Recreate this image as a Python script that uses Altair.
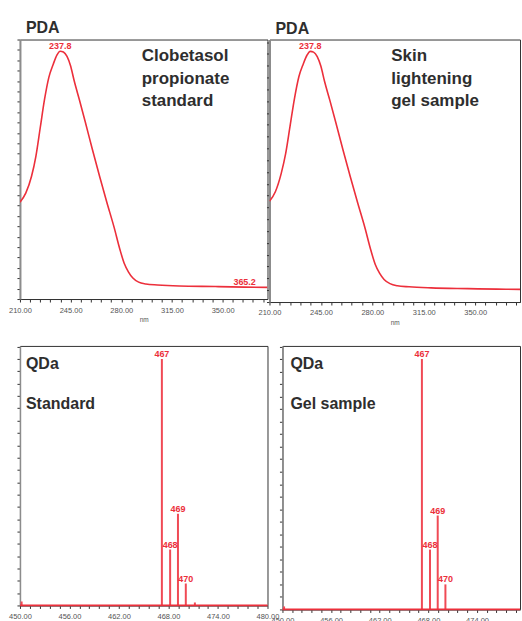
import altair as alt
import pandas as pd

FONT = "Liberation Sans"
RED = "#ec2f3b"
STICK_RED = "#f04a55"
TXT = "#2e2e2e"
AXC = "#555555"

# ---- PDA (UV) spectra: wavelength (nm) vs relative absorbance
std_wl = [210, 214, 218, 221, 224, 227, 230, 233, 235.5, 237.8, 240, 242.5, 245, 247.5,
          251, 255, 260, 265, 270, 275, 279, 282, 285, 288, 292, 297, 305, 320, 345, 365.2, 381]
std_abs = [0.373, 0.408, 0.473, 0.55, 0.66, 0.77, 0.855, 0.905, 0.94, 0.955, 0.952, 0.935, 0.898, 0.84,
           0.769, 0.685, 0.577, 0.473, 0.373, 0.277, 0.192, 0.138, 0.104, 0.081, 0.065, 0.058, 0.054,
           0.050, 0.048, 0.046, 0.045]
gel_wl = [210, 214, 218, 221, 224, 227, 230, 233, 235.5, 237.8, 240, 242.5, 245, 247.5,
          251, 255, 260, 265, 270, 275, 279, 282, 285, 288, 292, 297, 305, 320, 345, 365, 381]
gel_abs = [0.384, 0.42, 0.49, 0.565, 0.67, 0.775, 0.858, 0.907, 0.94, 0.955, 0.952, 0.935, 0.898, 0.84,
           0.77, 0.687, 0.58, 0.477, 0.378, 0.282, 0.197, 0.143, 0.109, 0.086, 0.07, 0.062, 0.058,
           0.054, 0.051, 0.049, 0.048]

std_pda_lab_x = [237.8, 365.2]
std_pda_lab_y = [0.955, 0.046]
std_pda_lab_t = ["237.8", "365.2"]
gel_pda_lab_x = [237.8]
gel_pda_lab_y = [0.955]
gel_pda_lab_t = ["237.8"]

# ---- QDa mass spectra: m/z vs relative intensity
std_mz = [450.2, 467.2, 468.2, 469.15, 470.1, 471.2]
std_int = [1.6, 100, 22.7, 37.2, 8.9, 1.2]
std_lab = ["", "467", "468", "469", "470", ""]
gel_mz = [450.2, 467.2, 468.2, 469.15, 470.1]
gel_int = [1.2, 100, 23.9, 37.5, 10.0]
gel_lab = ["", "467", "468", "469", "470"]

std_note = ["Clobetasol", "propionate", "standard"]
gel_note = ["Skin", "lightening", "gel sample"]
std_ms_note = ["QDa", "Standard"]
gel_ms_note = ["QDa", "Gel sample"]


def one_row():
    return alt.Chart(pd.DataFrame({"k": [0]}))


def pda_panel(wl, ab, lx, ly, lt, note, width, height, xmax, ystep):
    df = pd.DataFrame({"wl": wl, "abs": ab})
    xt = [v for v in range(210, 382, 7) if v <= xmax]
    yt = [round(i * ystep, 4) for i in range(int(1 / ystep) + 1)]
    xsc = alt.Scale(domain=[210, xmax], nice=False, zero=False)
    ysc = alt.Scale(domain=[0, 1], nice=False)
    x = alt.X("wl:Q", scale=xsc, axis=alt.Axis(
        values=xt, labelExpr="(datum.value - 210) % 35 == 0 ? format(datum.value, '.2f') : ''",
        labelOverlap=False, labelFlush=False, tickSize=3, tickColor="#333", domainColor="#333",
        domainWidth=1.2, labelFontSize=7.5, labelColor=AXC, labelPadding=4, labelFont=FONT,
        grid=False, title="nm", titleFontSize=6.5, titleFontWeight="normal", titleColor=AXC,
        titlePadding=3, titleFont=FONT))
    y = alt.Y("abs:Q", scale=ysc, axis=alt.Axis(
        values=yt, labels=False, title=None, tickSize=3, tickColor="#333",
        domainColor="#8c8c8c", domainWidth=2, grid=False))
    line = alt.Chart(df).mark_line(color=RED, strokeWidth=1.6, interpolate="monotone",
                                   clip=True).encode(x=x, y=y)
    ldf = pd.DataFrame({"wl": lx, "abs": ly, "t": lt})
    labs = alt.Chart(ldf).mark_text(color=RED, fontSize=9, fontWeight="bold", font=FONT,
                                    baseline="alphabetic", dy=-2).encode(x=x, y=y, text="t:N")
    txt = one_row().mark_text(text=note, align="left", baseline="alphabetic", fontSize=17,
                              fontWeight="bold", font=FONT, color=TXT, lineHeight=22.5).encode(
        x=alt.value(122), y=alt.value(22))
    return alt.layer(line, labs, txt).properties(
        width=width, height=height,
        title=alt.TitleParams("PDA", anchor="start", frame="group", dx=6, offset=-10,
                              baseline="alphabetic", fontSize=16, fontWeight="bold",
                              color=TXT, font=FONT))


def ms_panel(mz, inten, lab, note, width, height, xmax, ymax, note_x):
    df = pd.DataFrame({"mz": mz, "i": inten, "t": lab})
    bdf = pd.DataFrame({"mz": [450], "mz2": [xmax], "i": [0]})
    xt = [round(450 + 1.2 * k, 1) for k in range(26) if 450 + 1.2 * k <= xmax + 1e-6]
    yt = list(range(0, int(ymax) + 1, 5))
    xsc = alt.Scale(domain=[450, xmax], nice=False, zero=False)
    ysc = alt.Scale(domain=[0, ymax], nice=False)
    x = alt.X("mz:Q", scale=xsc, axis=alt.Axis(
        values=xt,
        labelExpr="abs((datum.value - 450) / 6 - round((datum.value - 450) / 6)) < 0.01 ? format(datum.value, '.2f') : ''",
        labelOverlap=False, labelFlush=False, tickSize=3, tickColor="#333", domainColor="#666",
        domainWidth=1.2, labelFontSize=7.5, labelColor=AXC, labelPadding=4, labelFont=FONT,
        grid=False, title=None))
    y = alt.Y("i:Q", scale=ysc, axis=alt.Axis(
        values=yt, labels=False, title=None, tickSize=3, tickColor="#333",
        domainColor="#8c8c8c", domainWidth=1.5, grid=False))
    sticks = alt.Chart(df).mark_rule(color=STICK_RED, strokeWidth=2).encode(
        x=x, y=y, y2=alt.datum(0))
    base = alt.Chart(bdf).mark_rule(color=RED, strokeWidth=1.8).encode(x=x, x2="mz2:Q", y=y)
    labs = alt.Chart(df).mark_text(color=RED, fontSize=9, fontWeight="bold", font=FONT,
                                   baseline="alphabetic", dy=-2).encode(x=x, y=y, text="t:N")
    txt = one_row().mark_text(text=note, align="left", baseline="alphabetic", fontSize=16,
                              fontWeight="bold", font=FONT, color=TXT, lineHeight=40).encode(
        x=alt.value(note_x), y=alt.value(23))
    return alt.layer(sticks, base, labs, txt).properties(width=width, height=height)


tl = pda_panel(std_wl, std_abs, std_pda_lab_x, std_pda_lab_y, std_pda_lab_t, std_note,
               248, 260, 381, 0.04)
tr = pda_panel(gel_wl, gel_abs, gel_pda_lab_x, gel_pda_lab_y, gel_pda_lab_t, gel_note,
               251, 263, 380.5, 0.045)
bl = ms_panel(std_mz, std_int, std_lab, std_ms_note, 248, 260, 480, 105.3, 6)
br = ms_panel(gel_mz, gel_int, gel_lab, gel_ms_note, 238, 264, 479.3, 105.2, 8)

top = alt.HConcatChart(hconcat=[tl, tr], spacing=2, bounds="flush")
bottom = alt.HConcatChart(hconcat=[bl, br], spacing=15, bounds="flush")
chart = alt.VConcatChart(vconcat=[top, bottom], spacing=307, bounds="flush").properties(
    padding={"left": 8, "top": 19, "right": 0, "bottom": 0}
).configure_view(stroke="#333", strokeWidth=1)

chart.save("out.html", embed_options={"renderer": "svg", "actions": False})
